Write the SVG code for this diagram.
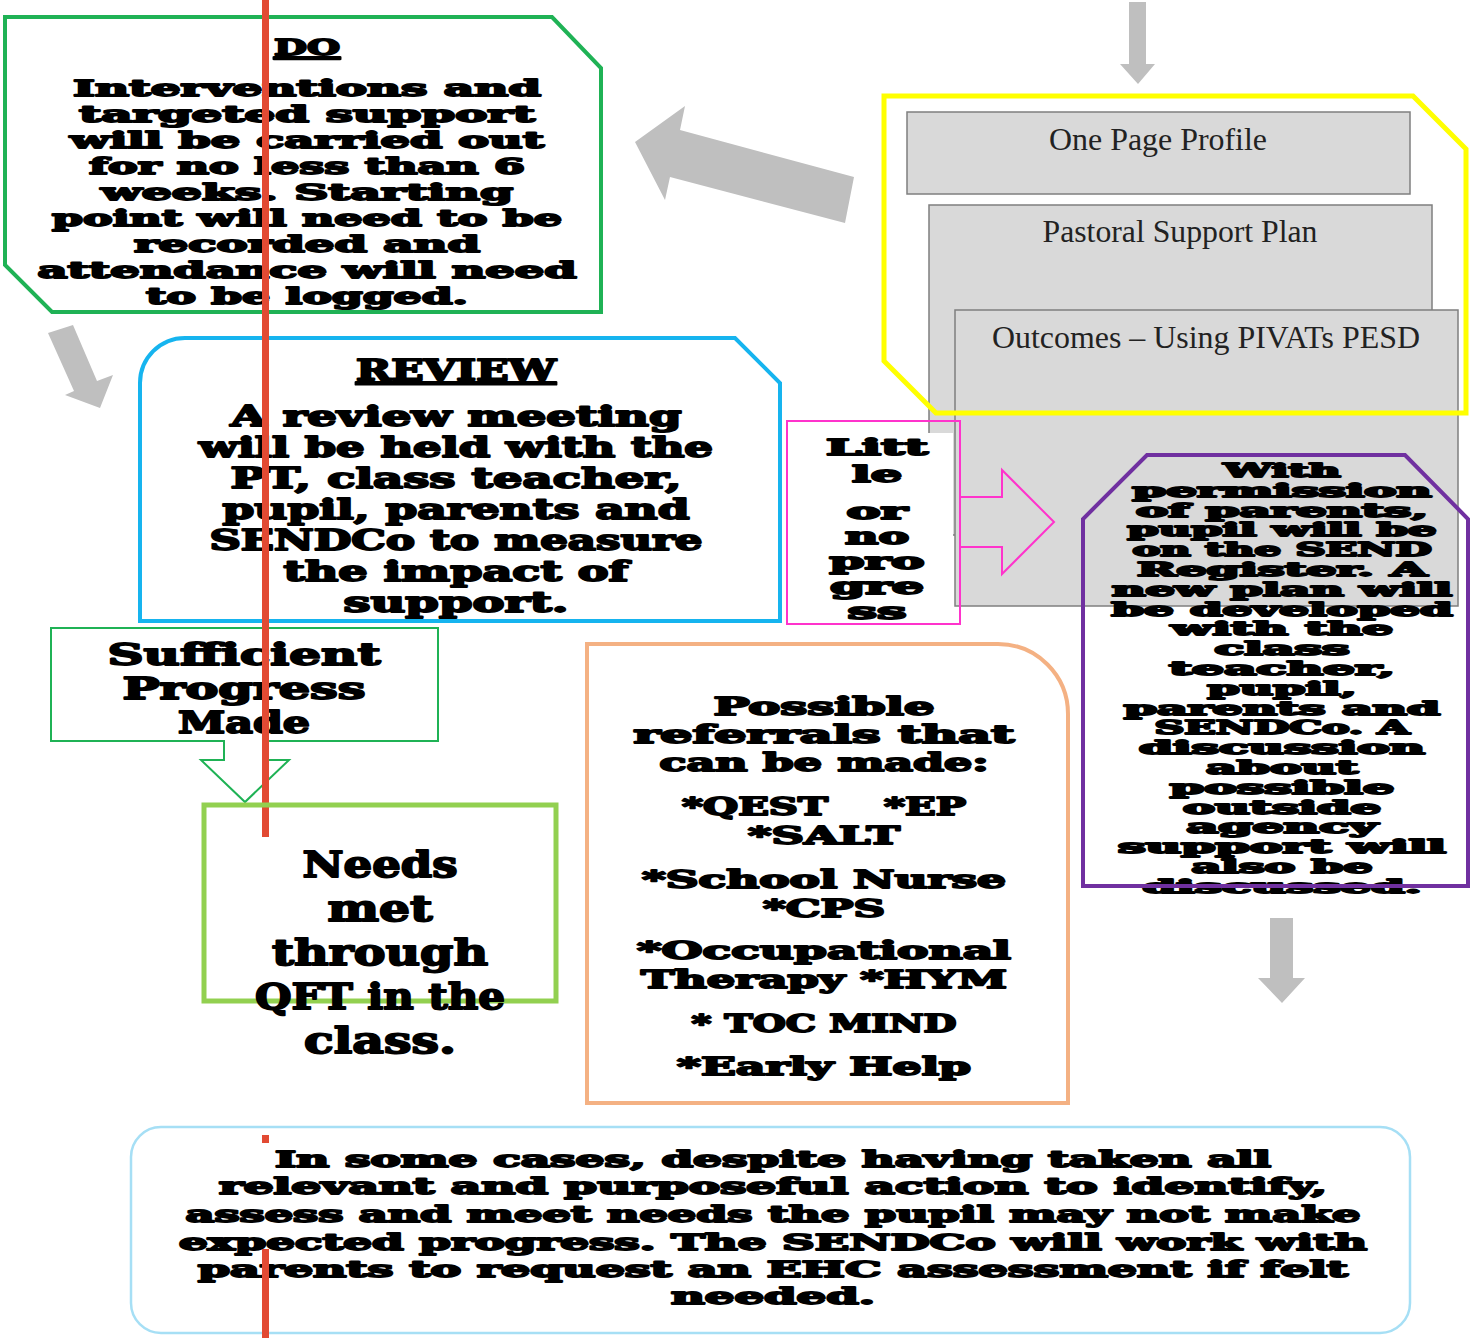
<svg xmlns="http://www.w3.org/2000/svg" width="1481" height="1338" viewBox="0 0 1481 1338">
<style>
.h{font-family:"DejaVu Serif","Liberation Serif",serif;font-weight:bold;fill:#000;stroke:#000;stroke-width:1.8;stroke-linejoin:round;text-anchor:middle}
.g{font-family:"Liberation Serif","Times New Roman",serif;fill:#222;text-anchor:middle;font-size:31px}
.box{fill:#d9d9d9;stroke:#7f7f7f;stroke-width:1.5}
.arr{fill:#bfbfbf;stroke:none}
</style>
<rect width="1481" height="1338" fill="#fff"/>

<g id="node-do">
<path d="M5,17 H552 L601,68 V312 H52 L5,265 Z" fill="#fff" stroke="#1fb255" stroke-width="4"/>
<g class="h" font-size="23">
<text x="307" y="55" textLength="66" lengthAdjust="spacingAndGlyphs" text-decoration="underline">DO</text>
<text x="307" y="96" textLength="468" lengthAdjust="spacingAndGlyphs">Interventions and</text>
<text x="307" y="122" textLength="456" lengthAdjust="spacingAndGlyphs">targeted support</text>
<text x="307" y="148" textLength="474" lengthAdjust="spacingAndGlyphs">will be carried out</text>
<text x="307" y="174" textLength="436" lengthAdjust="spacingAndGlyphs">for no less than 6</text>
<text x="307" y="200" textLength="412" lengthAdjust="spacingAndGlyphs">weeks. Starting</text>
<text x="307" y="226" textLength="510" lengthAdjust="spacingAndGlyphs">point will need to be</text>
<text x="307" y="252" textLength="346" lengthAdjust="spacingAndGlyphs">recorded and</text>
<text x="307" y="278" textLength="539" lengthAdjust="spacingAndGlyphs">attendance will need</text>
<text x="307" y="304" textLength="322" lengthAdjust="spacingAndGlyphs">to be logged.</text>
</g>
</g>

<g id="node-review">
<path d="M140,621 V383 A45,45 0 0 1 185,338 H735 L780,383 V621 Z" fill="#fff" stroke="#16b4ef" stroke-width="4"/>
<g class="h" font-size="27">
<text x="456" y="380" textLength="200" lengthAdjust="spacingAndGlyphs" text-decoration="underline">REVIEW</text>
<text x="456" y="426" textLength="451" lengthAdjust="spacingAndGlyphs">A review meeting</text>
<text x="456" y="457" textLength="514" lengthAdjust="spacingAndGlyphs">will be held with the</text>
<text x="456" y="488" textLength="451" lengthAdjust="spacingAndGlyphs">PT, class teacher,</text>
<text x="456" y="519" textLength="467" lengthAdjust="spacingAndGlyphs">pupil, parents and</text>
<text x="456" y="550" textLength="493" lengthAdjust="spacingAndGlyphs">SENDCo to measure</text>
<text x="456" y="581" textLength="345" lengthAdjust="spacingAndGlyphs">the impact of</text>
<text x="456" y="612" textLength="225" lengthAdjust="spacingAndGlyphs">support.</text>
</g>
</g>

<g id="node-sufficient">
<path d="M51,628 H438 V741 H266 V760 H289 L245,802 L201,760 H224 V741 H51 Z" fill="#fff" stroke="#1fb255" stroke-width="2"/>
<g class="h" font-size="30">
<text x="244" y="665" textLength="273" lengthAdjust="spacingAndGlyphs">Sufficient</text>
<text x="244" y="699" textLength="243" lengthAdjust="spacingAndGlyphs">Progress</text>
<text x="244" y="733" textLength="132" lengthAdjust="spacingAndGlyphs">Made</text>
</g>
</g>

<g id="node-plans">
<rect class="box" x="907" y="112" width="503" height="82"/>
<rect class="box" x="929" y="205" width="503" height="330"/>
<rect class="box" x="955" y="310" width="503" height="296"/>
<text class="g" x="1158" y="150" textLength="218" lengthAdjust="spacingAndGlyphs">One Page Profile</text>
<text class="g" x="1180" y="242" textLength="275" lengthAdjust="spacingAndGlyphs">Pastoral Support Plan</text>
<text class="g" x="1206" y="348" textLength="428" lengthAdjust="spacingAndGlyphs">Outcomes – Using PIVATs PESD</text>
<path d="M884,96 H1413 L1466,149 V413 H936 L884,361 Z" fill="none" stroke="#ffff00" stroke-width="5"/>
</g>

<g id="node-little">
<rect x="789" y="433" width="164" height="190" fill="#fff"/>
<rect x="787" y="421" width="173" height="203" fill="none" stroke="#ff33cc" stroke-width="2"/>
<g class="h" font-size="22">
<text x="877" y="455" textLength="102" lengthAdjust="spacingAndGlyphs">Litt</text>
<text x="877" y="482" textLength="50" lengthAdjust="spacingAndGlyphs">le</text>
<text x="877" y="519" textLength="61" lengthAdjust="spacingAndGlyphs">or</text>
<text x="877" y="544" textLength="64" lengthAdjust="spacingAndGlyphs">no</text>
<text x="877" y="569" textLength="95" lengthAdjust="spacingAndGlyphs">pro</text>
<text x="877" y="594" textLength="94" lengthAdjust="spacingAndGlyphs">gre</text>
<text x="877" y="619" textLength="59" lengthAdjust="spacingAndGlyphs">ss</text>
</g>
</g>

<g id="node-new-plan">
<g class="h" font-size="18" stroke-width="1.3">
<text x="1282" y="477" textLength="117" lengthAdjust="spacingAndGlyphs">With</text>
<text x="1282" y="497" textLength="299" lengthAdjust="spacingAndGlyphs">permission</text>
<text x="1282" y="517" textLength="292" lengthAdjust="spacingAndGlyphs">of parents,</text>
<text x="1282" y="536" textLength="309" lengthAdjust="spacingAndGlyphs">pupil will be</text>
<text x="1282" y="556" textLength="299" lengthAdjust="spacingAndGlyphs">on the SEND</text>
<text x="1282" y="576" textLength="290" lengthAdjust="spacingAndGlyphs">Register. A</text>
<text x="1282" y="596" textLength="340" lengthAdjust="spacingAndGlyphs">new plan will</text>
<text x="1282" y="616" textLength="341" lengthAdjust="spacingAndGlyphs">be developed</text>
<text x="1282" y="635" textLength="222" lengthAdjust="spacingAndGlyphs">with the</text>
<text x="1282" y="655" textLength="135" lengthAdjust="spacingAndGlyphs">class</text>
<text x="1282" y="675" textLength="226" lengthAdjust="spacingAndGlyphs">teacher,</text>
<text x="1282" y="695" textLength="149" lengthAdjust="spacingAndGlyphs">pupil,</text>
<text x="1282" y="715" textLength="316" lengthAdjust="spacingAndGlyphs">parents and</text>
<text x="1282" y="734" textLength="255" lengthAdjust="spacingAndGlyphs">SENDCo. A</text>
<text x="1282" y="754" textLength="286" lengthAdjust="spacingAndGlyphs">discussion</text>
<text x="1282" y="774" textLength="152" lengthAdjust="spacingAndGlyphs">about</text>
<text x="1282" y="794" textLength="224" lengthAdjust="spacingAndGlyphs">possible</text>
<text x="1282" y="814" textLength="198" lengthAdjust="spacingAndGlyphs">outside</text>
<text x="1282" y="833" textLength="191" lengthAdjust="spacingAndGlyphs">agency</text>
<text x="1282" y="853" textLength="328" lengthAdjust="spacingAndGlyphs">support will</text>
<text x="1282" y="873" textLength="181" lengthAdjust="spacingAndGlyphs">also be</text>
<text x="1282" y="893" textLength="279" lengthAdjust="spacingAndGlyphs">discussed.</text>
</g>
<path d="M1147,455 H1405 L1468,519 V886 H1083 V519 Z" fill="none" stroke="#7030a0" stroke-width="4"/>
</g>

<g id="node-referrals">
<path d="M587,644 H998 A70,70 0 0 1 1068,714 V1103 H587 Z" fill="#fff" stroke="#f4b183" stroke-width="4"/>
<g class="h" font-size="24">
<text x="824" y="715" textLength="221" lengthAdjust="spacingAndGlyphs">Possible</text>
<text x="824" y="743" textLength="381" lengthAdjust="spacingAndGlyphs">referrals that</text>
<text x="824" y="771" textLength="329" lengthAdjust="spacingAndGlyphs">can be made:</text>
<text x="824" y="815" textLength="284" lengthAdjust="spacingAndGlyphs" xml:space="preserve">*QEST    *EP</text>
<text x="824" y="844" textLength="152" lengthAdjust="spacingAndGlyphs">*SALT</text>
<text x="824" y="888" textLength="364" lengthAdjust="spacingAndGlyphs">*School Nurse</text>
<text x="824" y="917" textLength="122" lengthAdjust="spacingAndGlyphs">*CPS</text>
<text x="824" y="959" textLength="374" lengthAdjust="spacingAndGlyphs">*Occupational</text>
<text x="824" y="988" textLength="366" lengthAdjust="spacingAndGlyphs">Therapy *HYM</text>
<text x="824" y="1032" textLength="265" lengthAdjust="spacingAndGlyphs">* TOC MIND</text>
<text x="824" y="1075" textLength="294" lengthAdjust="spacingAndGlyphs">*Early Help</text>
</g>
</g>

<g id="node-ehc">
<rect x="131" y="1127" width="1279" height="206" rx="30" fill="#fff" stroke="#a6dff5" stroke-width="2.5"/>
<g class="h" font-size="22">
<text x="773" y="1167" textLength="996" lengthAdjust="spacingAndGlyphs">In some cases, despite having taken all</text>
<text x="773" y="1194" textLength="1108" lengthAdjust="spacingAndGlyphs">relevant and purposeful action to identify,</text>
<text x="773" y="1222" textLength="1175" lengthAdjust="spacingAndGlyphs">assess and meet needs the pupil may not make</text>
<text x="773" y="1250" textLength="1188" lengthAdjust="spacingAndGlyphs">expected progress. The SENDCo will work with</text>
<text x="773" y="1277" textLength="1150" lengthAdjust="spacingAndGlyphs">parents to request an EHC assessment if felt</text>
<text x="773" y="1304" textLength="204" lengthAdjust="spacingAndGlyphs">needed.</text>
</g>
</g>

<g id="connectors">
<polygon class="arr" points="1129,2 1146,2 1146,64 1155,64 1138,84 1120,64 1129,64"/>
<polygon class="arr" points="635,142 685,106 680,130 854,177 845,223 670,177 665,200"/>
<polygon class="arr" points="48,333 73,325 97,381 113,375 100,408 65,395 74,391"/>
<polygon class="arr" points="1270,918 1293,918 1293,978 1305,978 1282,1003 1258,978 1270,978"/>
<polyline points="961,497 1002,497 1002,470 1054,522 1002,574 1002,547 961,547" fill="none" stroke="#ff33cc" stroke-width="2"/>
</g>

<g id="divider" fill="#e24a33">
<rect x="262" y="0" width="7" height="837"/>
<rect x="262" y="1135" width="7" height="8"/>
<rect x="262" y="1249" width="7" height="89"/>
</g>

<g id="node-needs-met">
<rect x="204" y="805" width="352" height="196" fill="none" stroke="#92d050" stroke-width="5"/>
<g class="h" font-size="35">
<text x="380" y="877" textLength="155" lengthAdjust="spacingAndGlyphs">Needs</text>
<text x="380" y="921" textLength="105" lengthAdjust="spacingAndGlyphs">met</text>
<text x="380" y="965" textLength="216" lengthAdjust="spacingAndGlyphs">through</text>
<text x="380" y="1009" textLength="250" lengthAdjust="spacingAndGlyphs">QFT in the</text>
<text x="380" y="1053" textLength="152" lengthAdjust="spacingAndGlyphs">class.</text>
</g>
</g>
</svg>
